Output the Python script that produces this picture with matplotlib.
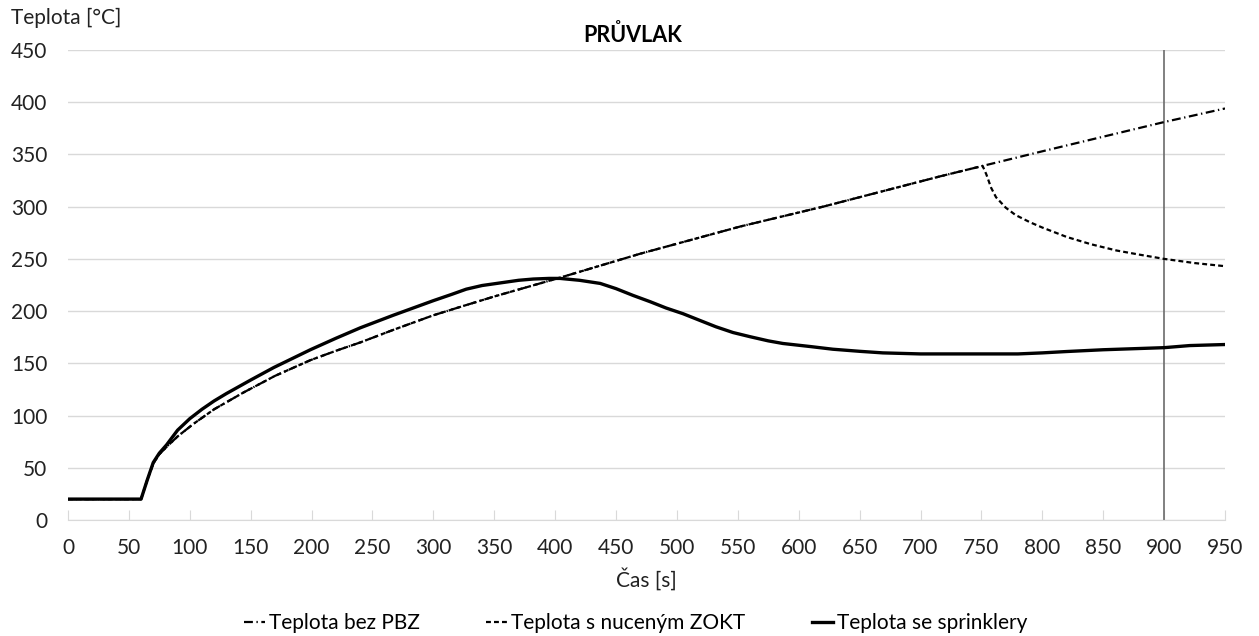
import matplotlib
matplotlib.use("Agg")
import matplotlib.pyplot as plt

plt.rcParams['font.family'] = ['Lato', 'DejaVu Sans']

# cas [s] a teplota [°C]
cas_pbz = [0, 60, 65, 70, 75, 81, 90, 103, 120, 144, 170, 199, 220, 240, 267,
           300, 322, 350, 401, 470, 552, 620, 716, 751, 800, 850, 900, 950]
t_pbz = [20, 20, 38, 54, 63, 70, 80, 92, 106, 122, 138, 153, 162, 170, 182,
         196, 204, 214, 231, 255, 281, 300, 329, 339, 353, 367, 381, 394]

cas_zokt = [0, 60, 65, 70, 75, 81, 90, 103, 120, 144, 170, 199, 220, 240, 267,
            300, 322, 350, 401, 470, 552, 620, 716, 751, 754, 758, 762, 770,
            778, 790, 800, 820, 840, 861, 880, 900, 925, 950]
t_zokt = [20, 20, 38, 54, 63, 70, 80, 92, 106, 122, 138, 153, 162, 170, 182,
          196, 204, 214, 231, 255, 281, 300, 329, 339, 331, 318, 309, 299,
          292, 285, 280, 271, 264, 258, 254, 250, 246, 243]

cas_spr = [0, 60, 65, 70, 75, 81, 90, 100, 110, 120, 130, 150, 169, 199, 220,
           240, 267, 300, 315, 327, 340, 355, 370, 382, 395, 404, 420, 437,
           450, 464, 478, 491, 505, 519, 532, 546, 560, 575, 587, 610, 628,
           650, 669, 700, 750, 780, 800, 820, 850, 875, 900, 921, 950]
t_spr = [20, 20, 38, 55, 64, 72, 86, 97, 106, 114, 121, 134, 146, 163, 174,
         184, 196, 210, 216, 221, 224.5, 227, 229.5, 230.7, 231.3, 231.3, 229.5,
         226.5, 221.5, 215, 209, 203, 197.5, 191, 185, 179.5, 175.5, 171.5, 169,
         166, 163.5, 161.5, 160, 159, 159, 159, 160, 161.3, 163, 164, 165, 167,
         168]

x_ticks = list(range(0, 951, 50))
y_ticks = list(range(0, 451, 50))
t_mez = 900

fig = plt.figure(figsize=(12.59, 6.36), dpi=100)
ax = fig.add_axes([0.054, 0.1824, 0.919, 0.739])

ax.plot(cas_pbz, t_pbz, color='black', lw=1.6, dashes=(4, 1.6, 0.6, 1.6),
        label='Teplota bez PBZ', zorder=3)
ax.plot(cas_zokt, t_zokt, color='black', lw=1.6, dashes=(2.2, 1.4),
        label='Teplota s nuceným ZOKT', zorder=3)
ax.plot(cas_spr, t_spr, color='black', lw=2.4, label='Teplota se sprinklery',
        zorder=4)
ax.axvline(t_mez, color='#6b6b6b', lw=1.2, zorder=2)

ax.set_xlim(0, 950)
ax.set_ylim(0, 450)
ax.set_xticks(x_ticks)
ax.set_yticks(y_ticks)
ax.grid(axis='y', color='#d9d9d9', lw=1)
ax.set_axisbelow(True)
for s in ['top', 'right', 'left']:
    ax.spines[s].set_visible(False)
ax.spines['bottom'].set_color('#d9d9d9')
ax.tick_params(axis='x', direction='in', length=7, color='#d9d9d9', pad=13,
               labelsize=15, labelcolor='#222222')
ax.tick_params(axis='y', length=0, pad=15, labelsize=15, labelcolor='#222222')

ax.set_xlabel('Čas [s]', fontsize=15, color='#222222', labelpad=7)
ax.set_title('PRŮVLAK', fontsize=15.5, fontweight='bold', pad=6, x=0.488)
fig.text(0.009, 0.972, 'Teplota [°C]', fontsize=15, color='#222222',
         ha='left', va='center')

fig.legend(loc='center', bbox_to_anchor=(0.505, 0.02), ncol=3, frameon=False,
           fontsize=15, handlelength=1.0, handletextpad=0.2,
           columnspacing=3.2)

fig.savefig('out.png', dpi=100)
